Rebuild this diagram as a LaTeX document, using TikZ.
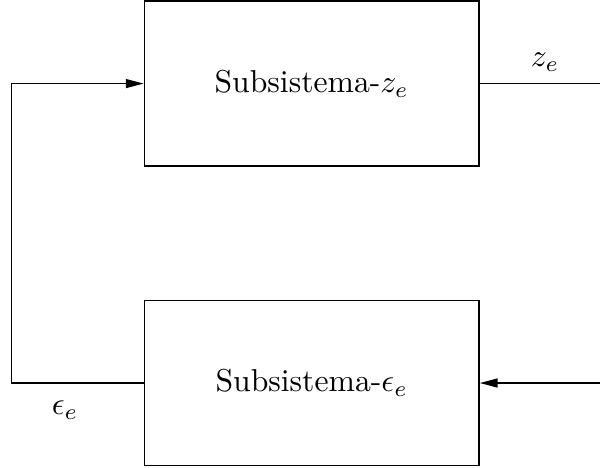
\documentclass[tikz,border=0pt]{standalone}
\usetikzlibrary{arrows.meta}
\begin{document}
\begin{tikzpicture}[
    % Blocks share the same size
    block/.style={draw=black, line width=0.5pt, minimum width=3.71cm,
                  minimum height=1.83cm, align=center},
    % Signal lines
    sig/.style={line width=0.5pt, draw=black},
    arr/.style={sig, -{Triangle[length=5.6pt,width=2.8pt]}},
]

% Picture 600x467 px => 6.654cm x 5.18cm
\useasboundingbox (0,0) rectangle (6.654,5.18);

%% ── Blocks ──
\node[block] (sz) at (3.457, 4.253) {Subsistema-$z_e$};
\node[block] (se) at (3.457, 0.932) {Subsistema-$\epsilon_e$};

%% ── Free ends and corners ──
\coordinate (out) at (6.654, 4.253);
\coordinate (in)  at (6.654, 0.932);
\coordinate (lb)  at (0.128, 0.932);
\coordinate (lt)  at (0.128, 4.253);

%% ── Connectors ──
\draw[sig] (sz.east) -- (out);
\draw[arr] (in) -- (se.east);
\draw[arr] (se.west) -- (lb) -- (lt) -- (sz.west);

%% ── Labels ──
\node (lz) at (6.044, 4.49) {$z_e$};
\node (le) at (0.721, 0.632) {$\epsilon_e$};

\end{tikzpicture}
\end{document}
